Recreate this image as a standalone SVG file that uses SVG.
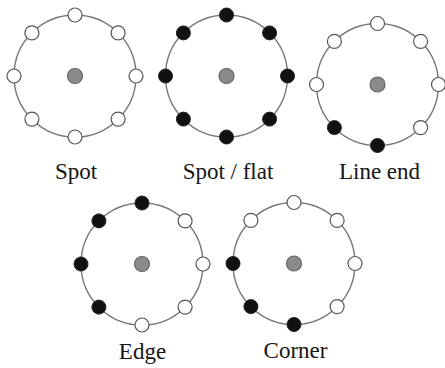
<svg xmlns="http://www.w3.org/2000/svg" width="445" height="368" viewBox="0 0 445 368">
<style>
.ring{fill:none;stroke:#777;stroke-width:1.4}
.w{fill:#fff;stroke:#555;stroke-width:1.2}
.b{fill:#111;stroke:#222;stroke-width:1}
.c{fill:#8a8a8a;stroke:#666;stroke-width:1.2}
.lbl{font-family:"Liberation Serif","Times New Roman",serif;font-size:23px;fill:#151515;text-anchor:middle}
</style>
<rect width="445" height="368" fill="#fff"/>
<g id="connectors"></g>
<g id="spot">
<circle class="ring" cx="75" cy="76" r="61"/>
<circle class="c" cx="75" cy="76" r="7.5"/>
<circle class="w" cx="75" cy="15" r="7"/>
<circle class="w" cx="118.1" cy="32.9" r="7"/>
<circle class="w" cx="136" cy="76" r="7"/>
<circle class="w" cx="118.1" cy="119.1" r="7"/>
<circle class="w" cx="75" cy="137" r="7"/>
<circle class="w" cx="31.9" cy="119.1" r="7"/>
<circle class="w" cx="14" cy="76" r="7"/>
<circle class="w" cx="31.9" cy="32.9" r="7"/>
<text class="lbl" x="76" y="179">Spot</text>
</g>
<g id="spot-flat">
<circle class="ring" cx="226.5" cy="76" r="61"/>
<circle class="c" cx="226.5" cy="76" r="7.5"/>
<circle class="b" cx="226.5" cy="15" r="7"/>
<circle class="b" cx="269.6" cy="32.9" r="7"/>
<circle class="b" cx="287.5" cy="76" r="7"/>
<circle class="b" cx="269.6" cy="119.1" r="7"/>
<circle class="b" cx="226.5" cy="137" r="7"/>
<circle class="b" cx="183.4" cy="119.1" r="7"/>
<circle class="b" cx="165.5" cy="76" r="7"/>
<circle class="b" cx="183.4" cy="32.9" r="7"/>
<text class="lbl" x="228" y="179">Spot / flat</text>
</g>
<g id="line-end">
<circle class="ring" cx="377.5" cy="84.5" r="61"/>
<circle class="c" cx="377.5" cy="84.5" r="7.5"/>
<circle class="w" cx="377.5" cy="23.5" r="7"/>
<circle class="w" cx="420.6" cy="41.4" r="7"/>
<circle class="w" cx="438.5" cy="84.5" r="7"/>
<circle class="w" cx="420.6" cy="127.6" r="7"/>
<circle class="b" cx="377.5" cy="145.5" r="7"/>
<circle class="b" cx="334.4" cy="127.6" r="7"/>
<circle class="w" cx="316.5" cy="84.5" r="7"/>
<circle class="w" cx="334.4" cy="41.4" r="7"/>
<text class="lbl" x="379.5" y="179">Line end</text>
</g>
<g id="edge">
<circle class="ring" cx="142" cy="264" r="61"/>
<circle class="c" cx="142" cy="264" r="7.5"/>
<circle class="b" cx="142" cy="203" r="7"/>
<circle class="w" cx="185.1" cy="220.9" r="7"/>
<circle class="w" cx="203" cy="264" r="7"/>
<circle class="w" cx="185.1" cy="307.1" r="7"/>
<circle class="w" cx="142" cy="325" r="7"/>
<circle class="b" cx="98.9" cy="307.1" r="7"/>
<circle class="b" cx="81" cy="264" r="7"/>
<circle class="b" cx="98.9" cy="220.9" r="7"/>
<text class="lbl" x="142.5" y="359">Edge</text>
</g>
<g id="corner">
<circle class="ring" cx="294" cy="263.5" r="61"/>
<circle class="c" cx="294" cy="263.5" r="7.5"/>
<circle class="w" cx="294" cy="202.5" r="7"/>
<circle class="w" cx="337.1" cy="220.4" r="7"/>
<circle class="w" cx="355" cy="263.5" r="7"/>
<circle class="w" cx="337.1" cy="306.6" r="7"/>
<circle class="b" cx="294" cy="324.5" r="7"/>
<circle class="b" cx="250.9" cy="306.6" r="7"/>
<circle class="b" cx="233" cy="263.5" r="7"/>
<circle class="w" cx="250.9" cy="220.4" r="7"/>
<text class="lbl" x="295.5" y="357.5">Corner</text>
</g>
</svg>
